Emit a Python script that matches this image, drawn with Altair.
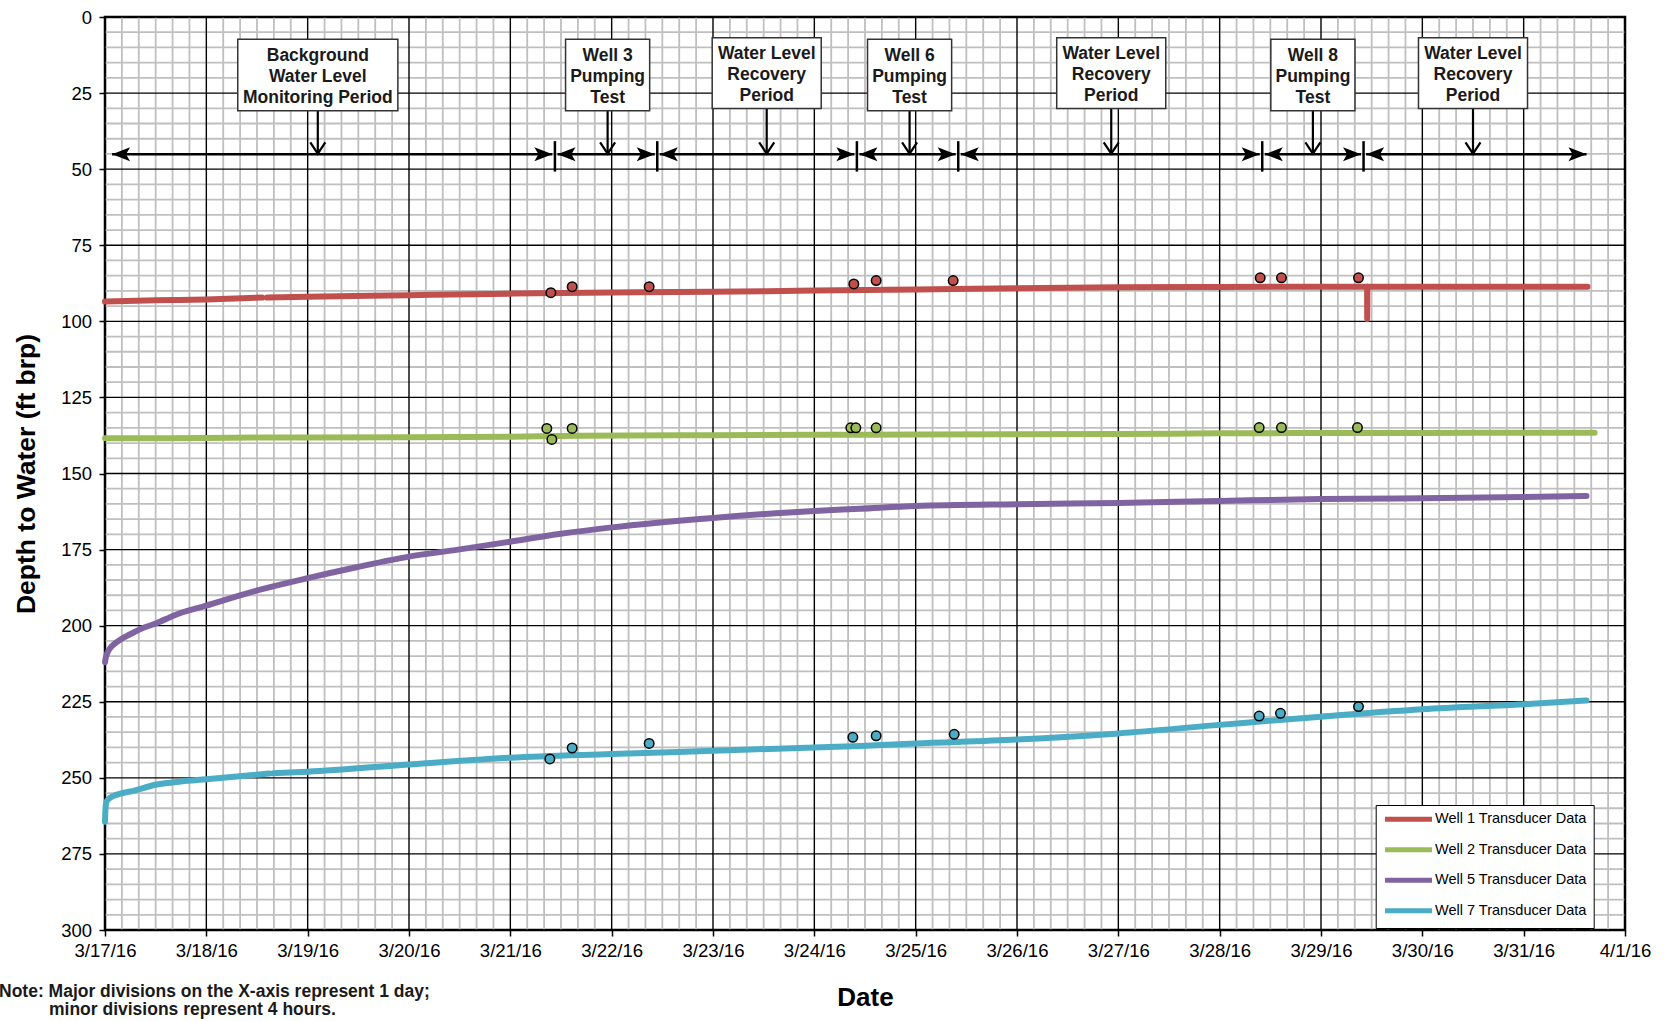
import altair as alt
import pandas as pd

# ---------------------------------------------------------------------------
# Transducer records: days after 3/17/16 00:00 and depth to water (ft brp).
# None marks a break in the logger record.
# ---------------------------------------------------------------------------
well1_days = [0.0, 0.5, 1.0, 1.55, None, 1.60, 2.0, 3.0, 4.0, 5.0, 6.0, 7.0, 8.0,
              9.0, 10.0, 11.0, 12.0, 12.455, 12.456, 12.458, 13.0, 14.0, 14.63]
well1_depth = [93.5, 93.1, 92.8, 92.2, None, 92.2, 91.9, 91.4, 90.9, 90.5, 90.3, 89.9, 89.5,
               89.1, 88.8, 88.7, 88.6, 88.6, 99.3, 88.6, 88.6, 88.6, 88.6]

well2_days = [0.0, 0.5, 1.0, 1.49, None, 1.52, 2.0, 3.0, 4.0, 4.69, 6.0, 7.0, 8.0, 9.0,
              10.0, 11.0, 12.0, 13.0, 14.0, 14.7]
well2_depth = [138.4, 138.4, 138.3, 138.2, None, 138.2, 138.2, 138.1, 137.9, 137.6, 137.4,
               137.3, 137.2, 137.1, 137.0, 136.8, 136.7, 136.7, 136.6, 136.6]

well5_days = [0.0, 0.01, 0.03, 0.06, 0.1, 0.15, 0.25, 0.35, 0.5, 0.7, 1.0, 1.46, 2.0, 2.47,
              3.0, 3.47, 4.0, 4.48, 5.0, 6.0, 7.0, 7.45, 8.0, 9.0, 10.0, 11.0, 12.0, 13.0,
              14.0, 14.62]
well5_depth = [212.0, 210.2, 208.5, 207.0, 205.8, 204.6, 202.8, 201.1, 199.3, 196.4, 193.4,
               188.8, 184.4, 180.9, 177.3, 175.1, 172.4, 169.9, 167.7, 164.6, 162.3, 161.6,
               160.7, 160.1, 159.7, 159.0, 158.4, 158.1, 157.7, 157.4]

well7_days = [0.0, 0.005, 0.015, 0.04, 0.08, 0.15, 0.25, 0.51, 0.75, 1.0, 1.62, None, 1.66,
              2.0, 3.0, 4.0, 5.0, 6.0, 7.0, 7.45, 8.0, 9.0, 10.0, 11.0, 12.0, 13.0, 14.0, 14.62]
well7_depth = [264.4, 260.0, 257.8, 256.8, 256.0, 255.2, 254.5, 252.2, 251.2, 250.5, 248.6,
               None, 248.5, 248.0, 245.6, 243.4, 242.2, 241.1, 240.0, 239.5, 238.7, 237.4,
               235.4, 232.6, 229.9, 227.5, 225.8, 224.6]

# Manual water-level measurements
well1_meas_days = [4.40, 4.61, 5.37, 7.39, 7.61, 8.37, 11.40, 11.61, 12.37]
well1_meas_depth = [90.6, 88.6, 88.6, 87.7, 86.6, 86.6, 85.7, 85.7, 85.7]
well2_meas_days = [4.36, 4.41, 4.61, 7.36, 7.41, 7.61, 11.39, 11.61, 12.36]
well2_meas_depth = [135.2, 138.8, 135.2, 135.0, 135.0, 135.0, 134.9, 134.9, 134.9]
well7_meas_days = [4.39, 4.61, 5.37, 7.38, 7.61, 8.38, 11.39, 11.60, 12.37]
well7_meas_depth = [243.8, 240.2, 238.7, 236.7, 236.2, 235.7, 229.7, 228.8, 226.6]

series_names = ["Well 1 Transducer Data", "Well 2 Transducer Data",
                "Well 5 Transducer Data", "Well 7 Transducer Data"]
series_colors = ["#C0504D", "#9BBB59", "#8064A2", "#4BACC6"]

# Test schedule: period boundaries (days) and the labels pointing into each period
period_bounds = [0.07, 4.44, 5.45, 7.42, 8.42, 11.42, 12.42, 14.62]
period_labels = ["Background\nWater Level\nMonitoring Period", "Well 3\nPumping\nTest",
                 "Water Level\nRecovery\nPeriod", "Well 6\nPumping\nTest",
                 "Water Level\nRecovery\nPeriod", "Well 8\nPumping\nTest",
                 "Water Level\nRecovery\nPeriod"]
period_kinds = ["background", "pumping", "recovery", "pumping", "recovery", "pumping", "recovery"]
period_marks = [2.10, 4.96, 6.53, 7.94, 9.93, 11.92, 13.50]

note_lines = ["Note: Major divisions on the X-axis represent 1 day;",
              "minor divisions represent 4 hours."]

# ---------------------------------------------------------------------------
# Layout / style
# ---------------------------------------------------------------------------
W, H = 1520, 913
FONT = "Liberation Sans"
BOX_HALF = {"background": 0.79, "pumping": 0.415, "recovery": 0.538}   # days
BOX_TOP = {"background": 7.3, "pumping": 7.3, "recovery": 6.8}
BOX_BOTTOM = {"background": 30.8, "pumping": 30.8, "recovery": 30.1}
BOX_LINE_H = 21
ARROW_Y = 45.1
SEP_TOP, SEP_BOTTOM = 40.8, 50.8
TIP_GAP = 0.025

START = pd.Timestamp("2016-03-17")


def iso(d):
    return (START + pd.Timedelta(days=d)).strftime("%Y-%m-%dT%H:%M:%SZ")


def series_rows(name, days, depths):
    rows, seg = [], 0
    for d, v in zip(days, depths):
        if d is None:
            seg += 1
            continue
        rows.append({"well": name, "t": iso(d), "depth": v, "seg": f"{name}|{seg}"})
    return rows


lines_df = pd.DataFrame(
    series_rows(series_names[0], well1_days, well1_depth)
    + series_rows(series_names[1], well2_days, well2_depth)
    + series_rows(series_names[2], well5_days, well5_depth)
    + series_rows(series_names[3], well7_days, well7_depth)
)

meas_rows = []
for days, depths, color in [(well1_meas_days, well1_meas_depth, series_colors[0]),
                            (well2_meas_days, well2_meas_depth, series_colors[1]),
                            (well7_meas_days, well7_meas_depth, series_colors[3])]:
    for d, v in zip(days, depths):
        meas_rows.append({"t": iso(d), "depth": v, "color": color})
meas_df = pd.DataFrame(meas_rows)

# grid positions: 4-hour minor / 1-day major; 5 ft minor / 25 ft major
minor_x = pd.DataFrame({"t": [iso(i / 6) for i in range(91) if i % 6]})
major_x = pd.DataFrame({"t": [iso(i) for i in range(16)]})
minor_y = pd.DataFrame({"depth": [v for v in range(0, 301, 5) if v % 25]})
major_y = pd.DataFrame({"depth": list(range(0, 301, 25))})

n = len(period_labels)
segs_df = pd.DataFrame({
    "t0": [iso(period_bounds[i] + (TIP_GAP if i > 0 else 0)) for i in range(n)],
    "t1": [iso(period_bounds[i + 1] - (TIP_GAP if i < n - 1 else 0)) for i in range(n)],
    "y": [ARROW_Y] * n,
})
seps_df = pd.DataFrame({"t": [iso(b) for b in period_bounds[1:-1]],
                        "y0": SEP_TOP, "y1": SEP_BOTTOM})
boxes_df = pd.DataFrame({
    "label": period_labels,
    "t": [iso(m) for m in period_marks],
    "x0": [iso(m - BOX_HALF[k]) for m, k in zip(period_marks, period_kinds)],
    "x1": [iso(m + BOX_HALF[k]) for m, k in zip(period_marks, period_kinds)],
    "top": [BOX_TOP[k] for k in period_kinds],
    "bottom": [BOX_BOTTOM[k] for k in period_kinds],
    "mid": [(BOX_TOP[k] + BOX_BOTTOM[k]) / 2 for k in period_kinds],
    "tip": [ARROW_Y - 0.2] * n,
})

# ---------------------------------------------------------------------------
# Scales and axes (the same definitions are given to every layer)
# ---------------------------------------------------------------------------
X_SCALE = alt.Scale(type="utc", nice=False, domain=[
    alt.DateTime(year=2016, month=3, date=17, utc=True),
    alt.DateTime(year=2016, month=4, date=1, utc=True)])
Y_SCALE = alt.Scale(domain=[0, 300], reverse=True, nice=False, zero=False)

X_AXIS = alt.Axis(
    title="Date", tickCount=alt.TimeIntervalStep(interval="day", step=1),
    labelExpr="utcFormat(datum.value, '%-m/%-d/%y')", grid=False, domain=False,
    tickSize=6, tickWidth=1.5, tickColor="black", labelFontSize=18.6, labelPadding=5,
    labelFlush=False, labelOverlap=False, labelColor="black", titleFontSize=26,
    titleFontWeight="bold", titlePadding=25, titleColor="black")
Y_AXIS = alt.Axis(
    title="Depth to Water (ft brp)", values=list(range(0, 301, 25)), grid=False,
    domain=False, tickSize=6, tickWidth=1.5, tickColor="black", labelFontSize=18.5,
    labelPadding=7.5, labelFlush=False, labelColor="black", titleFontSize=26.5,
    titleFontWeight="bold", titlePadding=20, titleColor="black")


def X(field):
    return alt.X(f"{field}:T", scale=X_SCALE, axis=X_AXIS)


def Y(field):
    return alt.Y(f"{field}:Q", scale=Y_SCALE, axis=Y_AXIS)


# ---------------------------------------------------------------------------
# Layers
# ---------------------------------------------------------------------------
grid_minor_v = alt.Chart(minor_x).mark_rule(color="#BFBFBF", strokeWidth=1.8).encode(x=X("t"))
grid_minor_h = alt.Chart(minor_y).mark_rule(color="#BFBFBF", strokeWidth=1.8).encode(y=Y("depth"))
grid_major_v = alt.Chart(major_x).mark_rule(color="black", strokeWidth=1.4).encode(x=X("t"))
grid_major_h = alt.Chart(major_y).mark_rule(color="black", strokeWidth=1.4).encode(y=Y("depth"))

lines = alt.Chart(lines_df).mark_line(
    strokeWidth=6, strokeCap="round", strokeJoin="round", interpolate="monotone").encode(
    x=X("t"),
    y=Y("depth"),
    color=alt.Color("well:N", scale=alt.Scale(domain=series_names, range=series_colors),
                    legend=alt.Legend(
                        title=None, orient="none", legendX=1270.7, legendY=788,
                        fillColor="white", strokeColor="black", padding=7, rowPadding=9.5,
                        symbolType="M-5.22,0H5.22", symbolSize=81, symbolStrokeWidth=5,
                        symbolOffset=18.55, labelOffset=19.3, labelFontSize=14.5,
                        labelFont=FONT, labelColor="black", labelLimit=300)),
    detail="seg:N",
    order="t:T",
)

points = alt.Chart(meas_df).mark_point(shape="circle", filled=True, size=90, stroke="black",
                                       strokeWidth=1.5, opacity=1).encode(
    x=X("t"), y=Y("depth"), fill=alt.Fill("color:N", scale=None))

shafts = alt.Chart(segs_df).mark_rule(color="black", strokeWidth=2.5).encode(
    x=X("t0"), x2="t1", y=Y("y"))
heads_right = alt.Chart(segs_df).mark_point(
    shape="M0,0L-2,-0.78L-1.55,0L-2,0.78Z", filled=True, size=324, color="black",
    opacity=1).encode(x=X("t1"), y=Y("y"))
heads_left = alt.Chart(segs_df).mark_point(
    shape="M0,0L2,-0.78L1.55,0L2,0.78Z", filled=True, size=324, color="black",
    opacity=1).encode(x=X("t0"), y=Y("y"))
separators = alt.Chart(seps_df).mark_rule(color="black", strokeWidth=2.5).encode(
    x=X("t"), y=Y("y0"), y2="y1")

down_shafts = alt.Chart(boxes_df).mark_rule(color="black", strokeWidth=2.2).encode(
    x=X("t"), y=Y("bottom"), y2="tip")
down_heads = alt.Chart(boxes_df).mark_point(
    shape="M-1,-1.5L0,0L1,-1.5", filled=False, size=225, stroke="black", strokeWidth=2.2,
    opacity=1).encode(x=X("t"), y=Y("tip"))
boxes = alt.Chart(boxes_df).mark_rect(fill="white", stroke="#333333", strokeWidth=1.5).encode(
    x=X("x0"), x2="x1", y=Y("top"), y2="bottom")
box_text = alt.Chart(boxes_df).mark_text(
    font=FONT, fontSize=17.5, fontWeight="bold", lineBreak="\n", lineHeight=BOX_LINE_H,
    align="center", baseline="middle", dy=-BOX_LINE_H + 2, color="#1a1a1a").encode(
    x=X("t"), y=Y("mid"), text="label:N")

note1 = alt.Chart(pd.DataFrame({"note": [note_lines[0]]})).mark_text(
    font=FONT, fontSize=17.5, fontWeight="bold", align="left", baseline="middle",
    color="#1a1a1a").encode(x=alt.value(-106), y=alt.value(974.5), text="note:N")
note2 = alt.Chart(pd.DataFrame({"note": [note_lines[1]]})).mark_text(
    font=FONT, fontSize=17.5, fontWeight="bold", align="left", baseline="middle",
    color="#1a1a1a").encode(x=alt.value(-56), y=alt.value(992.5), text="note:N")

chart = alt.layer(
    grid_minor_v, grid_minor_h, grid_major_v, grid_major_h,
    lines, points,
    shafts, separators, heads_right, heads_left,
    down_shafts, down_heads, boxes, box_text,
    note1, note2,
).properties(
    width=W, height=H,
    autosize=alt.AutoSizeParams(type="none"),
    padding={"left": 105, "top": 17, "right": 40, "bottom": 91},
    background="white",
).configure_view(
    stroke="black", strokeWidth=2.5
).configure_axis(
    labelFont=FONT, titleFont=FONT
)

chart.save("out.html", embed_options={"renderer": "svg", "actions": False})
